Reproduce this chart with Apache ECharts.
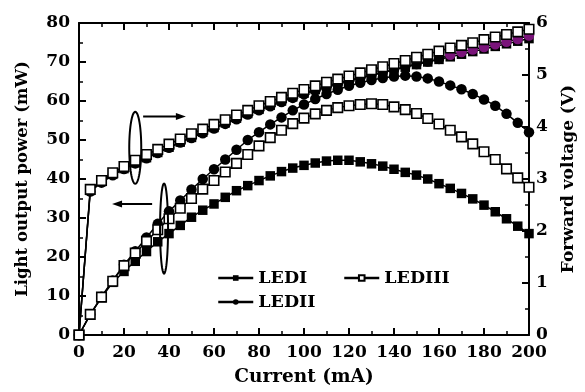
<!DOCTYPE html>
<html><head><meta charset="utf-8">
<script src="https://cdn.jsdelivr.net/npm/echarts@6/dist/echarts.min.js"></script>
<style>html,body{margin:0;padding:0;background:#fff}#c{width:585px;height:392px}</style>
</head><body><div id="c"></div>
<script>
// ---- data ----
const current = [0,5,10,15,20,25,30,35,40,45,50,55,60,65,70,75,80,85,90,95,100,105,110,115,120,125,130,135,140,145,150,155,160,165,170,175,180,185,190,195,200];
const powerLEDI   = [0,5.3,9.6,13.5,16.3,18.9,21.4,23.9,26,28.1,30.2,32,33.6,35.3,37,38.3,39.6,40.8,41.9,42.8,43.5,44.1,44.6,44.8,44.8,44.4,43.9,43.3,42.5,41.7,41.0,40.0,38.8,37.6,36.3,34.9,33.3,31.6,29.8,27.9,26.0];
const powerLEDII  = [0,5.3,9.8,14,18,21.5,25,28.5,31.7,34.5,37.3,40,42.5,45,47.5,50,52,54,55.8,57.6,59.1,60.5,61.8,62.9,63.9,64.7,65.4,65.9,66.3,66.5,66.3,65.8,65,64,63,61.8,60.4,58.8,56.7,54.4,52];
const powerLEDIII = [0,5.3,9.7,13.8,17.8,21,24,27,29.8,32.5,35,37.4,39.6,41.8,44,46.3,48.5,50.6,52.5,54.2,55.6,56.7,57.6,58.3,58.8,59.1,59.3,59.1,58.5,57.8,56.8,55.5,54.1,52.5,50.8,49,47,45,42.6,40.3,37.9];
const voltLEDI    = [0,2.78,2.95,3.09,3.2,3.31,3.41,3.51,3.61,3.71,3.8,3.9,3.99,4.08,4.17,4.26,4.34,4.42,4.5,4.58,4.65,4.72,4.78,4.84,4.9,4.95,5.0,5.05,5.1,5.15,5.2,5.25,5.3,5.35,5.4,5.45,5.5,5.55,5.6,5.65,5.7];
const voltLEDII   = [0,2.76,2.93,3.07,3.19,3.3,3.4,3.5,3.6,3.7,3.79,3.88,3.97,4.06,4.15,4.24,4.32,4.4,4.48,4.56,4.63,4.7,4.76,4.82,4.88,4.94,4.99,5.05,5.1,5.16,5.21,5.26,5.31,5.39,5.44,5.49,5.54,5.59,5.64,5.69,5.76];
const voltLEDIII  = [0,2.8,2.97,3.12,3.24,3.36,3.47,3.57,3.67,3.77,3.87,3.96,4.05,4.14,4.23,4.32,4.41,4.49,4.57,4.65,4.72,4.79,4.86,4.92,4.98,5.04,5.1,5.16,5.22,5.28,5.34,5.4,5.46,5.52,5.57,5.62,5.68,5.73,5.78,5.83,5.88];
const purpleFrom = 165; // LEDII voltage markers shown purple from this current on
const xTicks = {min:0, max:200, interval:20};
const yLeftTicks = {min:0, max:80, interval:10};
const yRightTicks = {min:0, max:6, interval:1};

// annotation (ellipses and arrows), in data units of the left axis
const ellipses = [{x:25, y:48, rx:6, ry:36}, {x:37.8, y:27.3, rx:4, ry:45}];
const arrows = [{x1:28.5, x2:47.5, y:56}, {x1:32.5, x2:14.7, y:33.6}];

const FONT = 'DejaVu Serif';
const pair = arr => current.map((c,i)=>[c,arr[i]]);

const chart = echarts.init(document.getElementById('c'));
const axisCommon = {
  axisLine:{show:true, onZero:false, lineStyle:{color:'#000', width:2}},
  axisTick:{show:true, inside:true, length:7, lineStyle:{color:'#000', width:2}},
  minorTick:{show:true, splitNumber:2, length:4, lineStyle:{color:'#000', width:1.5}},
  splitLine:{show:false},
  axisLabel:{color:'#000', fontFamily:FONT, fontWeight:'bold', fontSize:17}
};
const titleStyle = sz => ({color:'#000', fontFamily:FONT, fontWeight:'bold', fontSize:sz});
function lineSeries(name, data, yIdx, symbol, filled, size, z){
  return {
    name, type:'line', xAxisIndex:0, yAxisIndex:yIdx, data:pair(data),
    symbol, symbolSize:size, showAllSymbol:true, z,
    lineStyle:{color:'#000', width:1.5},
    itemStyle:{color: filled ? '#000' : '#fff', borderColor:'#000', borderWidth: filled?0:1.6},
    emphasis:{disabled:true}, animation:false
  };
}
const sLEDIIv = lineSeries('LEDII V', voltLEDII, 1, 'circle', true, 10.5, 3);
sLEDIIv.data = current.map((c,i)=> c>=purpleFrom ? {value:[c,voltLEDII[i]], itemStyle:{color:'#7a147a'}} : [c,voltLEDII[i]]);

const legendText = {color:'#000', fontFamily:FONT, fontWeight:'bold', fontSize:17.5};
chart.setOption({
  animation:false,
  grid:{left:79, right:56, top:23, bottom:55},
  xAxis:[
    Object.assign({}, axisCommon, {type:'value', position:'bottom', min:xTicks.min, max:xTicks.max, interval:xTicks.interval,
      name:'Current (mA)', nameLocation:'middle', nameGap:33, nameTextStyle:titleStyle(18.5),
      axisLabel:Object.assign({}, axisCommon.axisLabel, {margin:9})}),
    Object.assign({}, axisCommon, {type:'value', position:'top', min:xTicks.min, max:xTicks.max, interval:xTicks.interval,
      axisLabel:{show:false}})
  ],
  yAxis:[
    Object.assign({}, axisCommon, {type:'value', position:'left', min:yLeftTicks.min, max:yLeftTicks.max, interval:yLeftTicks.interval,
      name:'Light output power (mW)', nameLocation:'middle', nameGap:48, nameTextStyle:titleStyle(16.5),
      axisLabel:Object.assign({}, axisCommon.axisLabel, {margin:9})}),
    Object.assign({}, axisCommon, {type:'value', position:'right', min:yRightTicks.min, max:yRightTicks.max, interval:yRightTicks.interval,
      name:'Forward voltage (V)', nameLocation:'middle', nameGap:31, nameRotate:90, nameTextStyle:titleStyle(17),
      axisLabel:Object.assign({}, axisCommon.axisLabel, {margin:7})})
  ],
  legend:[
    {data:['LEDI','LEDII'], orient:'vertical', left:217, top:269, padding:0, itemWidth:35, itemHeight:7, itemGap:6,
     lineStyle:{width:2.5}, textStyle:legendText, selectedMode:false},
    {data:['LEDIII'], orient:'vertical', left:343, top:269, padding:0, itemWidth:35, itemHeight:7,
     lineStyle:{width:2.5}, textStyle:legendText, selectedMode:false}
  ],
  series:[
    lineSeries('LEDI', powerLEDI, 0, 'rect', true, 9.5, 2),
    lineSeries('LEDII', powerLEDII, 0, 'circle', true, 10.5, 2),
    lineSeries('LEDIII', powerLEDIII, 0, 'rect', false, 9.5, 2),
    lineSeries('LEDI V', voltLEDI, 1, 'rect', true, 9.5, 2),
    sLEDIIv,
    lineSeries('LEDIII V', voltLEDIII, 1, 'rect', false, 9.5, 4)
  ]
});

// annotations
const g = [];
ellipses.forEach(e=>{
  const c = chart.convertToPixel({xAxisIndex:0, yAxisIndex:0}, [e.x, e.y]);
  const pts = [];
  for(let k=0;k<72;k++){const t=k/72*Math.PI*2; pts.push([c[0]+e.rx*Math.cos(t), c[1]+e.ry*Math.sin(t)]);}
  g.push({type:'polygon', shape:{points:pts}, style:{fill:null, stroke:'#000', lineWidth:2}, z:10});
});
arrows.forEach(a=>{
  const p1 = chart.convertToPixel({xAxisIndex:0, yAxisIndex:0}, [a.x1, a.y]);
  const p2 = chart.convertToPixel({xAxisIndex:0, yAxisIndex:0}, [a.x2, a.y]);
  const dir = p2[0] > p1[0] ? 1 : -1;
  g.push({type:'line', shape:{x1:p1[0], y1:p1[1], x2:p2[0]-dir*6, y2:p2[1]}, style:{stroke:'#000', lineWidth:2}, z:10});
  g.push({type:'polygon', shape:{points:[[p2[0],p2[1]],[p2[0]-dir*10,p2[1]-3.5],[p2[0]-dir*10,p2[1]+3.5]]}, style:{fill:'#000'}, z:10});
});
chart.setOption({graphic:g});
</script></body></html>
